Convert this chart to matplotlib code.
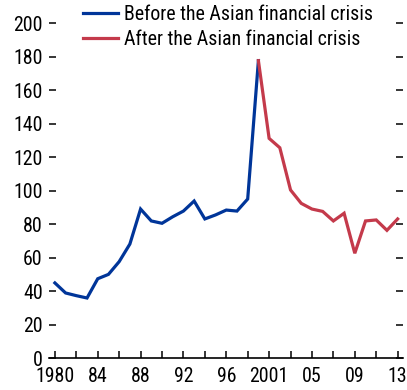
import matplotlib
matplotlib.use("Agg")
import matplotlib.pyplot as plt

plt.rcParams['font.family'] = ['Roboto Condensed', 'DejaVu Sans']

years = list(range(1980, 2013))
values = [45, 39, 37.4, 36, 47.5, 50.1, 57.7, 68.2, 89.1, 82, 80.6, 84.5, 87.9,
          93.9, 83.2, 85.6, 88.5, 87.9, 95.1, 177.7,
          131.3, 125.7, 100.5, 92.5, 89.1, 87.7, 82, 86.6, 62.7, 82, 82.6, 76.4, 83.2]
split_year = 1999
tick_labels = ["1980", "84", "88", "92", "96", "2001", "05", "09", "13"]
legend_labels = ["Before the Asian financial crisis", "After the Asian financial crisis"]

blue = "#003599"
red = "#c43a4b"
fs = 14.3

fig = plt.figure(figsize=(4.07, 3.90), dpi=100)
ax = fig.add_axes([49/407, 31.7/390, 354/407, 335/390])

idx = list(range(len(years)))
s = years.index(split_year)
ax.plot(idx[:s+1], values[:s+1], color=blue, lw=2.3, solid_joinstyle='miter', label=legend_labels[0], clip_on=False)
ax.plot(idx[s:], values[s:], color=red, lw=2.3, solid_joinstyle='miter', label=legend_labels[1], clip_on=False)

ax.set_xlim(-0.55, 32.5)
ax.set_ylim(0, 200)
ax.set_yticks(range(0, 201, 20))
ax.set_xticks(range(0, 33, 4))
ax.set_xticklabels(tick_labels)
ax.set_xticks(range(0, 33, 2), minor=True)

for sp in ['left', 'right', 'top']:
    ax.spines[sp].set_visible(False)
ax.spines['bottom'].set_linewidth(1.2)
ax.tick_params(axis='y', which='both', direction='in', length=5, width=1.1, left=True, right=True,
               labelsize=fs, pad=4.5)
ax.tick_params(axis='x', which='both', direction='in', length=5, width=1.1, labelsize=fs, pad=6)

fig.legend(loc='upper left', bbox_to_anchor=(83/407, 1 - 5/390), frameon=False, fontsize=fs,
           handlelength=1.75, handletextpad=0.3, labelspacing=0.28, borderpad=0, borderaxespad=0)

fig.savefig("out.png", dpi=100)
